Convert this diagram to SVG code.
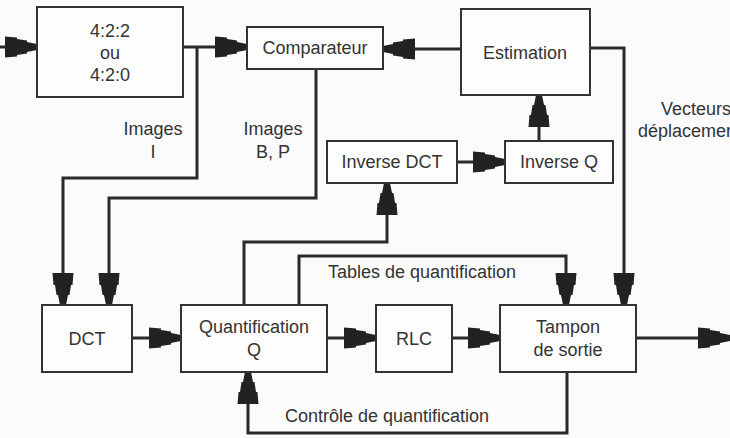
<svg xmlns="http://www.w3.org/2000/svg" width="730" height="438" viewBox="0 0 730 438">
<style>
.box{fill:#fdfdfd;stroke:#333;stroke-width:2}
.t{font-family:"Liberation Sans",Arial,sans-serif;font-size:18px;fill:#333}
.m{text-anchor:middle}
.c{fill:none;stroke:#2a2a2a;stroke-width:3;stroke-linejoin:miter}
.a{marker-end:url(#ah)}
</style>
<defs>
<marker id="ah" markerUnits="userSpaceOnUse" orient="auto" viewBox="-33 -11 34 22" refX="0" refY="0" markerWidth="34" markerHeight="22">
<path d="M0,-3 L-10,-5 L-10,-6.5 L-20,-8 L-20,-9.5 L-32,-10.5 L-32,10.5 L-20,9.5 L-20,8 L-10,6.5 L-10,5 L0,3 Z" fill="#222"/>
</marker>
</defs>
<rect width="730" height="438" fill="#fbfbfb"/>
<g id="connectors">
<path class="c a" d="M0,47 H37"/>
<path class="c a" d="M183,47 H247"/>
<path class="c a" d="M461,49 H383"/>
<path class="c a" d="M590,48 H624 V305"/>
<path class="c a" d="M539,141 V95"/>
<path class="c a" d="M457,162 H505"/>
<path class="c a" d="M244,305 V242 H387 V183"/>
<path class="c a" d="M299,305 V256 H566 V305"/>
<path class="c a" d="M197,47 V178 H63 V305"/>
<path class="c a" d="M316,69 V198 H109 V305"/>
<path class="c a" d="M132,338 H181"/>
<path class="c a" d="M327,338 H376"/>
<path class="c a" d="M452,338 H500"/>
<path class="c a" d="M636,338 H730"/>
<path class="c a" d="M567,372 V433 H248 V372"/>
</g>
<g id="labels">
<text class="t m" x="153" y="135">Images</text>
<text class="t m" x="153" y="158">I</text>
<text class="t m" x="273" y="135">Images</text>
<text class="t m" x="273" y="158">B, P</text>
<text class="t" x="661" y="115">Vecteurs</text>
<text class="t" x="638" y="137">déplacement</text>
<text class="t" x="328" y="278">Tables de quantification</text>
<text class="t" x="285" y="422">Contrôle de quantification</text>
</g>
<g id="format">
<rect class="box" x="37" y="7" width="146" height="90"/>
<text class="t m" x="110" y="37">4:2:2</text>
<text class="t m" x="110" y="59">ou</text>
<text class="t m" x="110" y="81">4:2:0</text>
</g>
<g id="comparateur">
<rect class="box" x="247" y="27" width="136" height="42"/>
<text class="t m" x="315" y="54">Comparateur</text>
</g>
<g id="estimation">
<rect class="box" x="461" y="9" width="129" height="86"/>
<text class="t m" x="525" y="59">Estimation</text>
</g>
<g id="inverse-dct">
<rect class="box" x="327" y="141" width="130" height="42"/>
<text class="t m" x="392" y="168">Inverse DCT</text>
</g>
<g id="inverse-q">
<rect class="box" x="505" y="141" width="108" height="42"/>
<text class="t m" x="559" y="168">Inverse Q</text>
</g>
<g id="dct">
<rect class="box" x="42" y="305" width="90" height="67"/>
<text class="t m" x="87" y="345">DCT</text>
</g>
<g id="quantification">
<rect class="box" x="181" y="305" width="146" height="67"/>
<text class="t m" x="254" y="333">Quantification</text>
<text class="t m" x="254" y="356">Q</text>
</g>
<g id="rlc">
<rect class="box" x="376" y="305" width="76" height="67"/>
<text class="t m" x="414" y="345">RLC</text>
</g>
<g id="tampon">
<rect class="box" x="500" y="305" width="136" height="67"/>
<text class="t m" x="568" y="333">Tampon</text>
<text class="t m" x="568" y="356">de sortie</text>
</g>
</svg>
